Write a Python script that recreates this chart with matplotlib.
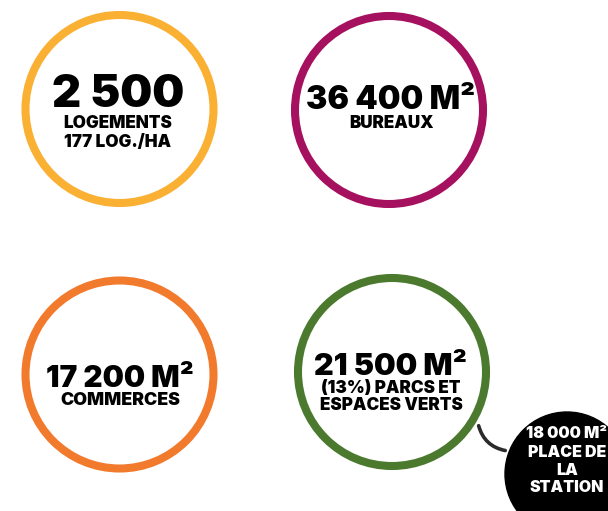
import matplotlib
matplotlib.use('Agg')
import matplotlib.pyplot as plt
from matplotlib.patches import Circle, FancyArrowPatch

# chiffres clés
values = ["2 500", "36 400 M²", "17 200 M²", "21 500 M²"]
labels = [["LOGEMENTS", "177 LOG./HA"], ["BUREAUX"], ["COMMERCES"],
          ["(13%) PARCS ET", "ESPACES VERTS"]]
colors = ["#FAB033", "#A5105F", "#F27A2D", "#4B7A2F"]
extra_value = "18 000 M²"
extra_label = ["PLACE DE", "LA", "STATION"]

# layout (pixels, origin top-left)
centers = [(119.5, 109), (389, 110), (119.5, 374.5), (392, 372)]
text_x = [118, 391, 120, 391]
value_base = [107, 109, 387, 375]
value_size = [32.5, 23, 21.5, 22]
label_base = [[128, 147], [127.5], [405], [393, 410]]
label_size = [12.3, 12.3, 12.8, 12.3]
R = 94
FONT = 'Inter'

fig = plt.figure(figsize=(6.08, 5.11), dpi=100)
ax = fig.add_axes([0, 0, 1, 1])
ax.set_xlim(0, 608)
ax.set_ylim(511, 0)
ax.set_aspect('equal')
ax.axis('off')

for i in range(len(values)):
    cx, cy = centers[i]
    ax.add_patch(Circle((cx, cy), R, facecolor='white', edgecolor=colors[i], lw=5.8, zorder=2))
    ax.text(text_x[i], value_base[i], values[i], ha='center', va='baseline',
            fontsize=value_size[i], fontweight='black', family=FONT, zorder=3)
    for line, yb in zip(labels[i], label_base[i]):
        ax.text(text_x[i], yb, line, ha='center', va='baseline', fontsize=label_size[i],
                fontweight='black', family=FONT, zorder=3)

# place de la station, reliée aux parcs
bx, by, br = 567, 474, 62
ax.add_patch(FancyArrowPatch((478, 423), (508, 451), arrowstyle='-',
                             connectionstyle='arc3,rad=0.35', color='#2b2b2b',
                             lw=2.6, zorder=1))
ax.add_patch(Circle((bx, by), br, facecolor='black', edgecolor='black', zorder=2))
for line, yb in zip([extra_value] + extra_label, [438, 457, 475, 492]):
    ax.text(bx, yb, line, ha='center', va='baseline', color='white', fontsize=11.5,
            fontweight='black', family=FONT, zorder=3)

fig.savefig('out.png', dpi=100)
